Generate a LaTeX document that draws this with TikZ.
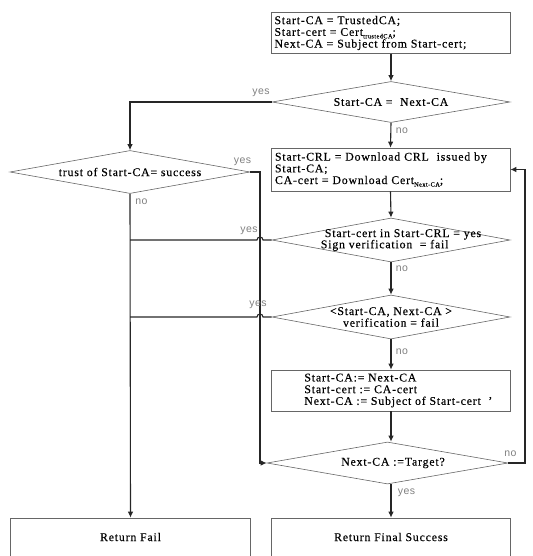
\documentclass[tikz,border=0pt]{standalone}
\usepackage{fontspec}
\setmainfont{Liberation Serif}[LetterSpace=7, FakeBold=0.3]
\newfontfamily\lblfont{Liberation Sans}[LetterSpace=4]
\usetikzlibrary{shapes.geometric,arrows.meta,calc}
% small lowered index text, as in Cert_{X}
\newcommand\subtxt[1]{\raisebox{-2.5pt}{\fontsize{6.3}{6.3}\selectfont #1}}

\begin{document}
\begin{tikzpicture}[x=1pt,y=-1pt,
  every node/.style={font=\fontsize{11.8}{11.7}\selectfont},
  box/.style={draw=black!60, line width=0.6pt, rectangle, inner sep=0pt},
  dia/.style={draw=black!60, line width=0.6pt, diamond, inner sep=0pt, shape aspect=1},
  flow/.style={draw=black!85, line width=1.1pt},
  arr/.style={flow, -{Latex[length=6pt,width=5.5pt]}},
  lbl/.style={font=\lblfont\fontsize{10.5}{10.5}\selectfont, text=black!50, inner sep=0pt}
]
\useasboundingbox (0,0) rectangle (532,556);

% process boxes
\node[box, minimum width=239pt, minimum height=41pt, text width=233pt, align=left] (init) at (391,33)
  {Start-CA = TrustedCA;\\ Start-cert = Cert\subtxt{trustedCA};\\ Next-CA = Subject from Start-cert;};
\node[box, minimum width=239pt, minimum height=43pt, text width=231pt, align=left] (fetch) at (390.5,169.5)
  {Start-CRL = Download CRL\ \ issued by\\ Start-CA;\\ CA-cert = Download Cert\subtxt{Next-CA};};
\node[box, minimum width=239pt, minimum height=41pt] (step) at (391,390.5) {};
\node[align=left, anchor=west, inner sep=0pt] (stept) at ($(step.west)+(33,0)$)
  {Start-CA:= Next-CA\\ Start-cert := CA-cert\\ Next-CA := Subject of Start-cert\ \ '};
\node[box, minimum width=239pt, minimum height=40pt] (done) at (391,538) {};
\node (donet) at (391,537) {Return Final Success};
\node[box, minimum width=240pt, minimum height=40pt] (fail) at (130.5,538) {};
\node (failt) at (130.5,537) {Return Fail};

% decisions
\node[dia, minimum width=238pt, minimum height=41pt] (same) at (391,102) {};
\node (samet) at (same) {Start-CA =\ \ Next-CA};
\node[dia, minimum width=240pt, minimum height=43pt] (trust) at (130,172) {};
\node (trustt) at (trust) {trust of Start-CA= success};
\node[dia, minimum width=238pt, minimum height=44pt] (crl) at (391,240) {};
\node[align=left, inner sep=0pt] (crlt) at (403,240) {Start-cert in Start-CRL = yes\\[-0.5pt]\hspace*{-4pt}Sign verification\ \ = fail};
\node[dia, minimum width=238pt, minimum height=44pt] (pair) at (391,317) {};
\node[align=center, inner sep=0pt] (pairt) at (pair) {<Start-CA, Next-CA >\\ verification = fail};
\node[dia, minimum width=241pt, minimum height=42pt] (last) at (387.5,463) {};
\node (lastt) at (393,463) {Next-CA :=Target?};

% helper columns for the vertical runs
\coordinate (bypx) at (260,0);
\coordinate (loopx) at (525,0);

% main flow
\draw[arr] (init.south) -- (same.north);
\draw[arr] (same.south) -- (fetch.south |- fetch.north);
\draw[arr] (fetch.south) -- (crl.north);
\draw[arr] (crl.south) -- (pair.north);
\draw[arr] (pair.south) -- (step.north);
\draw[arr] (step.south) -- (step.south |- last.north);
\draw[arr] (done.north |- last.south) -- (done.north);

% branches
\draw[arr] (same.west) -| (trust.north);
\draw[arr] (trust.south) -- (fail.north);
\draw[arr] (trust.east) -- (bypx |- trust.east) -- (bypx |- last.west) -- (last.west);
\draw[arr] (last.east) -- (loopx |- last.east) -- (loopx |- fetch.east) -- (fetch.east);
\draw[flow] (crl.west) -- ($(bypx |- crl.west)+(3,0)$) arc[start angle=0, end angle=180, radius=3pt]
  -- (trust.south |- crl.west);
\draw[flow] (pair.west) -- ($(bypx |- pair.west)+(3,0)$) arc[start angle=0, end angle=180, radius=3pt]
  -- (trust.south |- pair.west);

% branch labels
\node[lbl] (ys1) at (261,93) {yes};
\node[lbl] (no1) at (402,131) {no};
\node[lbl] (ys2) at (242.5,161.5) {yes};
\node[lbl] (no2) at (141.5,201.5) {no};
\node[lbl] (ys3) at (249,230.5) {yes};
\node[lbl] (no3) at (402,269) {no};
\node[lbl] (ys4) at (258,305) {yes};
\node[lbl] (no4) at (402,351.5) {no};
\node[lbl] (no5) at (510.5,454) {no};
\node[lbl] (ys5) at (406.5,493) {yes};
\end{tikzpicture}
\end{document}
